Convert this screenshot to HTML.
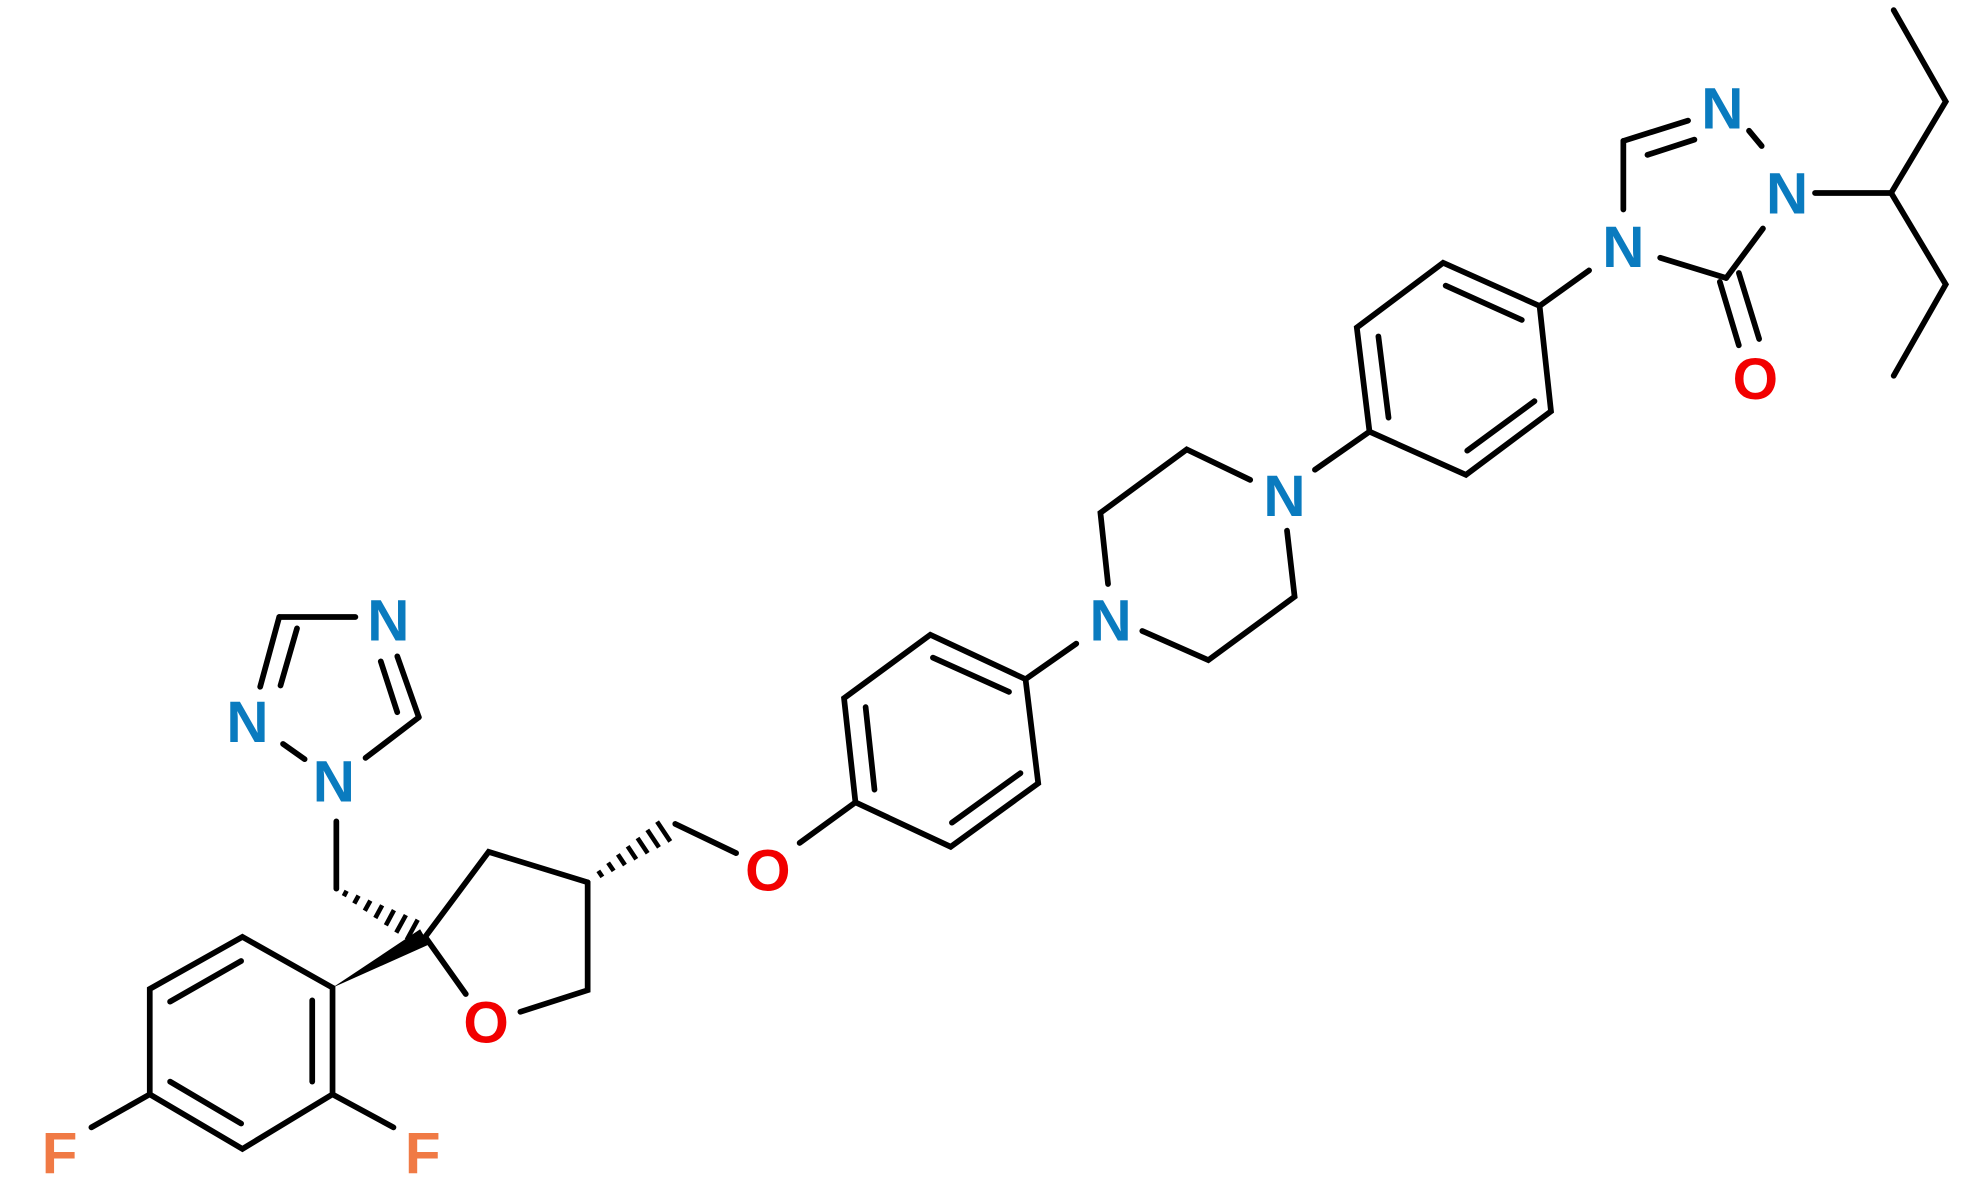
<!DOCTYPE html>
<html><head><meta charset="utf-8"><style>
html,body{margin:0;padding:0;background:#fff;}
svg{display:block;}
text{font-family:"Liberation Sans",sans-serif;font-weight:bold;font-size:46px;text-anchor:middle;dominant-baseline:central;}
.n{fill:#0a7bbf}.o{fill:#f20000}.f{fill:#f07a45}
</style></head><body>
<svg width="1980" height="1187" viewBox="0 0 1560 935" preserveAspectRatio="none" xmlns="http://www.w3.org/2000/svg">
<g stroke="#000" stroke-width="4.5" stroke-linecap="round" fill="none">
<polyline points="1492,8 1533,80 1490,152 1533,224 1492,296"/>
<line x1="1430" y1="152" x2="1490" y2="152"/>
<line x1="1378" y1="103" x2="1388" y2="115"/>
<line x1="1330" y1="95" x2="1279" y2="111"/>
<line x1="1298" y1="122" x2="1335" y2="110"/>
<line x1="1279" y1="111" x2="1279" y2="165"/>
<line x1="1308" y1="203" x2="1360" y2="219"/>
<line x1="1360" y1="219" x2="1389" y2="180"/>
<line x1="1355" y1="222" x2="1370" y2="272"/>
<line x1="1370" y1="215" x2="1386" y2="267"/>
<line x1="1252" y1="213" x2="1213" y2="241"/>
<polygon points="1213,241 1137,207 1069,258 1079,340 1155,374 1222,324"/>
<line x1="1139" y1="225" x2="1199" y2="252"/>
<line x1="1086" y1="265" x2="1094" y2="329"/>
<line x1="1156" y1="355" x2="1209" y2="316"/>
<line x1="1079" y1="340" x2="1036" y2="370"/>
<polyline points="985,378 935,354 867,404 873,460"/>
<polyline points="900,497 952,520 1020,470 1014,418"/>
<line x1="848" y1="507" x2="808" y2="535"/>
<polygon points="808,535 733,500 665,550 674,632 749,667 818,617"/>
<line x1="735" y1="518" x2="795" y2="545"/>
<line x1="682" y1="557" x2="689" y2="622"/>
<line x1="750" y1="648" x2="804" y2="609"/>
<line x1="674" y1="632" x2="630" y2="664"/>
<line x1="580" y1="672" x2="532" y2="649"/>
<polyline points="463,695 385,671 335,738 367,783"/>
<polyline points="410,797 463,780 463,695"/>
<line x1="265" y1="700" x2="265" y2="647"/>
<line x1="240" y1="598" x2="223" y2="586"/>
<line x1="205" y1="541" x2="220" y2="486"/>
<line x1="221" y1="540" x2="234" y2="495"/>
<line x1="220" y1="486" x2="280" y2="486"/>
<line x1="313" y1="517" x2="330" y2="565"/>
<line x1="300" y1="521" x2="313" y2="561"/>
<line x1="330" y1="565" x2="288" y2="597"/>
<polygon points="262,778 191,738 118,779 118,862 191,905 262,862"/>
<line x1="134" y1="789" x2="190" y2="757"/>
<line x1="134" y1="852" x2="190" y2="885"/>
<line x1="246" y1="788" x2="246" y2="852"/>
<line x1="118" y1="862" x2="72" y2="888"/>
<line x1="262" y1="862" x2="310" y2="888"/>
</g>
<g stroke="#000" stroke-width="3.6">
<line x1="471.4" y1="686.0" x2="474.6" y2="690.7"/>
<line x1="479.1" y1="679.6" x2="483.5" y2="686.0"/>
<line x1="486.8" y1="673.0" x2="492.4" y2="681.4"/>
<line x1="494.5" y1="666.6" x2="501.3" y2="676.8"/>
<line x1="502.3" y1="660.1" x2="510.3" y2="672.1"/>
<line x1="510.0" y1="653.7" x2="519.2" y2="667.5"/>
<line x1="517.7" y1="647.2" x2="528.1" y2="662.8"/>
<line x1="270.9" y1="705.9" x2="273.1" y2="701.7"/>
<line x1="279.1" y1="711.7" x2="282.5" y2="705.5"/>
<line x1="287.4" y1="717.4" x2="291.8" y2="709.4"/>
<line x1="295.7" y1="723.1" x2="301.1" y2="713.1"/>
<line x1="304.0" y1="728.9" x2="310.4" y2="716.9"/>
<line x1="312.2" y1="734.6" x2="319.8" y2="720.8"/>
<line x1="320.5" y1="740.3" x2="329.1" y2="724.5"/>
</g>
<polygon points="262,778 338,744 331,732" fill="#000"/>
<text x="1357" y="86" class="n">N</text>
<text x="1408" y="153" class="n">N</text>
<text x="1279" y="195" class="n">N</text>
<text x="1383" y="299" class="o">O</text>
<text x="1012" y="391" class="n">N</text>
<text x="875" y="489" class="n">N</text>
<text x="605" y="686" class="o">O</text>
<text x="383" y="806" class="o">O</text>
<text x="263" y="616" class="n">N</text>
<text x="195" y="569" class="n">N</text>
<text x="306" y="489" class="n">N</text>
<text x="47" y="909" class="f">F</text>
<text x="333" y="909" class="f">F</text>
</svg>
</body></html>
